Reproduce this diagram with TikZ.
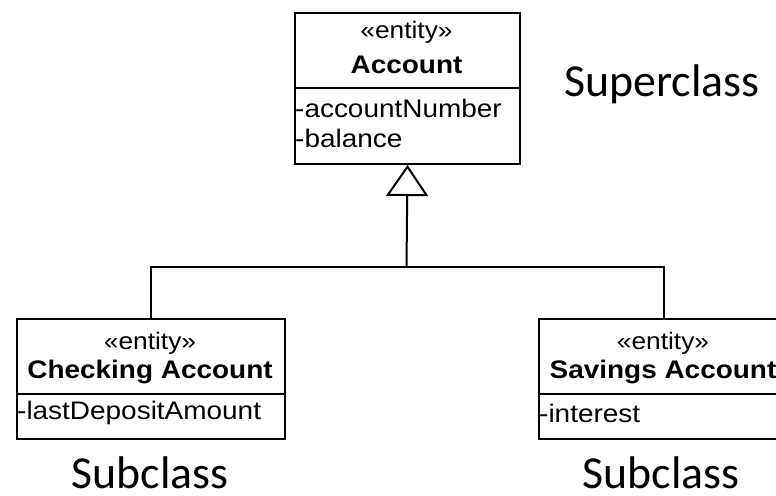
\documentclass[tikz,border=0pt]{standalone}
\usepackage{fontspec}
\usetikzlibrary{arrows.meta}
\newfontfamily\umlfont[FakeStretch=1.1]{Liberation Sans}
\newfontfamily\labelfont{Carlito}
\tikzset{
  classbox/.style={draw, line width=2bp, minimum width=#1, inner sep=0pt, anchor=north west},
  divider/.style={line width=2bp},
  stereo/.style={font=\umlfont\fontsize{24}{28}\selectfont, inner sep=0pt},
  cname/.style={font=\umlfont\bfseries\fontsize{25.5}{30}\selectfont, inner sep=0pt},
  attr/.style={font=\umlfont\fontsize{25.5}{30}\selectfont, inner sep=0pt, anchor=west},
  caption/.style={font=\labelfont\fontsize{46}{55}\selectfont, inner sep=0pt, anchor=base},
  link/.style={line width=2bp},
}
\begin{document}
\begin{tikzpicture}[x=1bp,y=-1bp]
  \useasboundingbox (0,0) rectangle (776,496);
  \clip (0,0) rectangle (776,496);

  % superclass
  \node[classbox=225bp, minimum height=151bp] (acc) at (294,12) {};
  \draw[divider] (294,88) -- (519,88);
  \node[stereo] (accst) at (406.5,32) {«entity»};
  \node[cname] (accnm) at (406.5,65) {Account};
  \node[attr] (acca1) at (295,108) {-accountNumber};
  \node[attr] (acca2) at (295,138) {-balance};

  % subclasses
  \node[classbox=268bp, minimum height=120bp] (chk) at (16,318) {};
  \draw[divider] (16,394) -- (284,394);
  \node[stereo] (chkst) at (150,343) {«entity»};
  \node[cname] (chknm) at (150,372) {Checking Account};
  \node[attr] (chka1) at (17,413) {-lastDepositAmount};

  \node[classbox=250bp, minimum height=120bp] (sav) at (538,318) {};
  \draw[divider] (538,394) -- (788,394);
  \node[stereo] (savst) at (663,343) {«entity»};
  \node[cname] (savnm) at (663,372) {Savings Account};
  \node[attr] (sava1) at (539,413) {-interest};

  % generalization
  \coordinate (j) at (406.5,267);
  \draw[link, -{Triangle[open, length=31bp, width=42bp, line width=2bp]}] (j) -- (acc.south);
  \draw[link] (chk.north) |- (j) -| (sav.north);

  % captions
  \node[caption] (sup) at (662,97) {Superclass};
  \node[caption] (sub1) at (150,488) {Subclass};
  \node[caption] (sub2) at (661,488) {Subclass};
\end{tikzpicture}
\end{document}
